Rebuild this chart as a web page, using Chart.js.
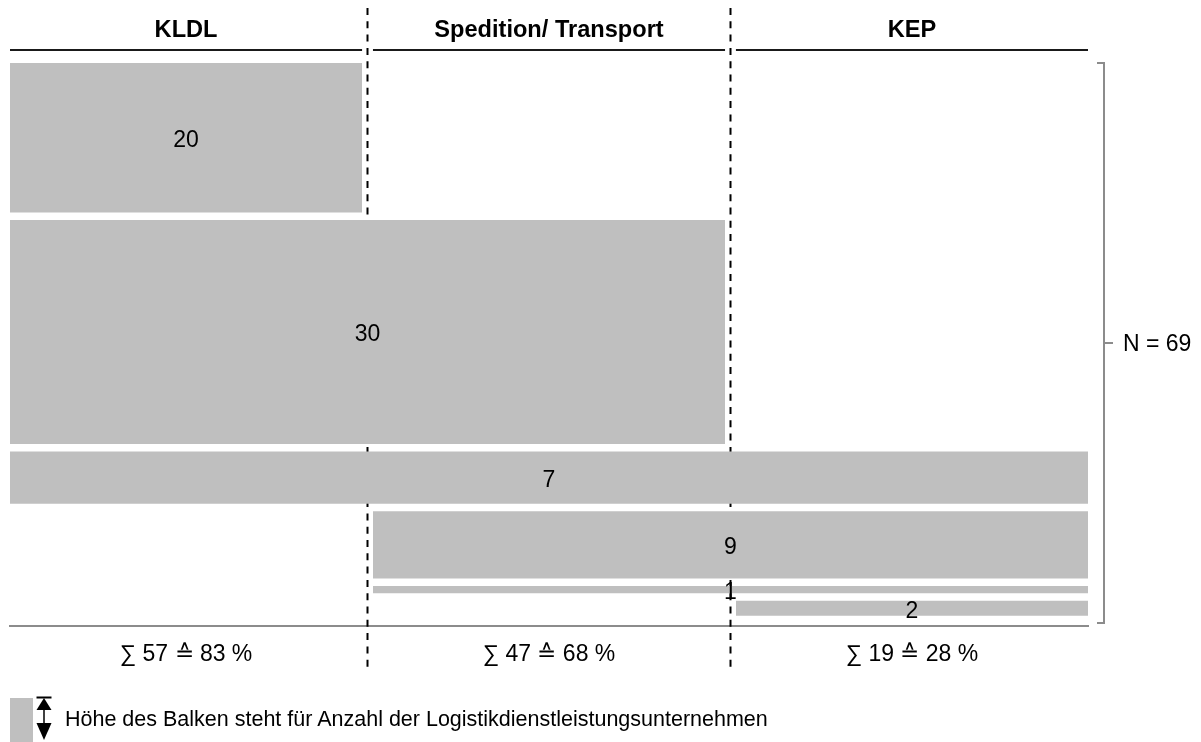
<!DOCTYPE html>
<html>
<head>
<meta charset="utf-8">
<script src="https://cdn.jsdelivr.net/npm/chart.js@4.4.1/dist/chart.umd.min.js"></script>
<style>
  html, body { margin: 0; padding: 0; background: #fff; }
  #wrap { position: relative; width: 1201px; height: 742px; overflow: hidden; }
  #legendBox { position: absolute; left: 10px; top: 698px; width: 23px; height: 44px; background: #bfbfbf; }
  #legendArrow { position: absolute; left: 36px; top: 696px; }
  #legendText { position: absolute; left: 65px; top: 696px; height: 46px; line-height: 46px;
    font-family: 'Liberation Sans', Arial, sans-serif; font-size: 21.5px; color: #000; white-space: nowrap; }
</style>
</head>
<body>
<div id="wrap">
  <canvas id="c" width="1201" height="742"></canvas>
  <div id="legendBox"></div>
  <svg id="legendArrow" width="16" height="46" viewBox="0 0 16 46">
    <line x1="0.5" y1="1.5" x2="15.5" y2="1.5" stroke="#000" stroke-width="2"/>
    <polygon points="8,2 0.5,14 15.5,14" fill="#000"/>
    <line x1="8" y1="13" x2="8" y2="28" stroke="#000" stroke-width="1.5"/>
    <polygon points="8,44 0.5,27 15.5,27" fill="#000"/>
  </svg>
  <div id="legendText">Höhe des Balken steht für Anzahl der Logistikdienstleistungsunternehmen</div>
</div>
<script>
// ---- data ----
const COLUMNS = ['KLDL', 'Spedition/ Transport', 'KEP'];
const SUM_LABELS = ['∑ 57 ≙ 83 %', '∑ 47 ≙ 68 %', '∑ 19 ≙ 28 %'];
const ROW_COUNTS = [20, 30, 7, 9, 1, 2];
const ROW_FIRST_COL = [0, 0, 0, 1, 1, 2];
const ROW_LAST_COL = [0, 1, 2, 2, 2, 2];

// ---- style constants ----
const BAR_COLOR = '#bfbfbf';
const ROW_GAP = 1;        // vertical gap between rows (in count units)
const COL_GAP = 0.03;     // gap between columns (in column units)
const FONT = "'Liberation Sans', Arial, sans-serif";
const FS = 23;

Chart.defaults.font.family = FONT;
Chart.defaults.color = '#000';

// build rows
let cum = 0;
const ROWS = ROW_COUNTS.map((n, i) => {
  const top = cum, bottom = cum + n;
  cum = bottom + ROW_GAP;
  return {
    n, top, bottom,
    x0: ROW_FIRST_COL[i] + COL_GAP / 2,
    x1: ROW_LAST_COL[i] + 1 - COL_GAP / 2
  };
});
const TOTAL = ROW_COUNTS.reduce((a, b) => a + b, 0);

const datasets = ROWS.map(r => ({
  type: 'line',
  data: [{ x: r.x0, y: r.top }, { x: r.x1, y: r.top }],
  fill: { value: r.bottom },
  backgroundColor: BAR_COLOR,
  borderColor: 'rgba(0,0,0,0)',
  borderWidth: 0,
  pointRadius: 0,
  pointHoverRadius: 0,
  tension: 0
}));

const centerTicks = scale => { scale.ticks = COLUMNS.map((_, i) => ({ value: i + 0.5 })); };

const decorations = {
  id: 'decorations',
  beforeDatasetsDraw(chart) {
    const { ctx, chartArea, scales: { x } } = chart;
    ctx.save();
    ctx.strokeStyle = '#000';
    ctx.lineWidth = 2;
    ctx.setLineDash([7, 6.3]);
    for (let k = 1; k < COLUMNS.length; k++) {
      const px = Math.round(x.getPixelForValue(k)) + (k - 1.5);
      ctx.beginPath();
      ctx.moveTo(px, chartArea.top - 42);
      ctx.lineTo(px, chartArea.bottom + 42);
      ctx.stroke();
    }
    ctx.restore();
  },
  afterDatasetsDraw(chart) {
    const { ctx, scales: { x, y } } = chart;
    ctx.save();
    ctx.fillStyle = '#000';
    ctx.font = FS + 'px ' + FONT;
    ctx.textAlign = 'center';
    ctx.textBaseline = 'middle';
    ROWS.forEach(r => {
      const cx = x.getPixelForValue((r.x0 + r.x1) / 2);
      const cy = y.getPixelForValue((r.top + r.bottom) / 2);
      ctx.fillText(String(r.n), cx, cy + 3);
    });
    ctx.restore();
  },
  afterDraw(chart) {
    const { ctx, chartArea, scales: { x, y } } = chart;
    ctx.save();
    // header underlines
    ctx.strokeStyle = '#1a1a1a';
    ctx.lineWidth = 2;
    COLUMNS.forEach((_, k) => {
      ctx.beginPath();
      ctx.moveTo(x.getPixelForValue(k + COL_GAP / 2), chartArea.top);
      ctx.lineTo(x.getPixelForValue(k + 1 - COL_GAP / 2), chartArea.top);
      ctx.stroke();
    });
    // bracket
    const top = y.getPixelForValue(0);
    const bot = chartArea.bottom - 3;
    const bx = chartArea.right + 16;
    const mid = (top + bot) / 2;
    ctx.strokeStyle = '#8c8c8c';
    ctx.lineWidth = 2;
    ctx.beginPath();
    ctx.moveTo(bx - 7, top); ctx.lineTo(bx, top); ctx.lineTo(bx, bot); ctx.lineTo(bx - 7, bot);
    ctx.moveTo(bx, mid); ctx.lineTo(bx + 9, mid);
    ctx.stroke();
    ctx.fillStyle = '#000';
    ctx.font = FS + 'px ' + FONT;
    ctx.textAlign = 'left';
    ctx.textBaseline = 'middle';
    ctx.fillText('N = ' + TOTAL, bx + 19, mid + 2);
    ctx.restore();
  }
};

new Chart(document.getElementById('c'), {
  type: 'line',
  data: { datasets },
  options: {
    responsive: false,
    animation: false,
    devicePixelRatio: 1,
    layout: { padding: { left: 10, right: 113, top: 11.3, bottom: 58 } },
    plugins: { legend: { display: false }, tooltip: { enabled: false } },
    scales: {
      x: {
        type: 'linear', position: 'bottom',
        min: COL_GAP / 2, max: COLUMNS.length - COL_GAP / 2,
        afterBuildTicks: centerTicks,
        grid: { display: false, drawTicks: false },
        border: { display: true, color: '#8c8c8c', width: 2 },
        ticks: { padding: 15.2, autoSkip: false, maxRotation: 0, font: { size: FS },
                 callback: (v, i) => SUM_LABELS[i] }
      },
      x2: {
        type: 'linear', position: 'top',
        min: COL_GAP / 2, max: COLUMNS.length - COL_GAP / 2,
        afterBuildTicks: centerTicks,
        grid: { display: false, drawTicks: false },
        border: { display: false },
        ticks: { padding: 5.2, autoSkip: false, maxRotation: 0, font: { size: 23.6, weight: 'bold' },
                 callback: (v, i) => COLUMNS[i] }
      },
      y: {
        type: 'linear', display: false, reverse: true,
        min: -1.74, max: 75.37
      }
    }
  },
  plugins: [decorations]
});
</script>
</body>
</html>
